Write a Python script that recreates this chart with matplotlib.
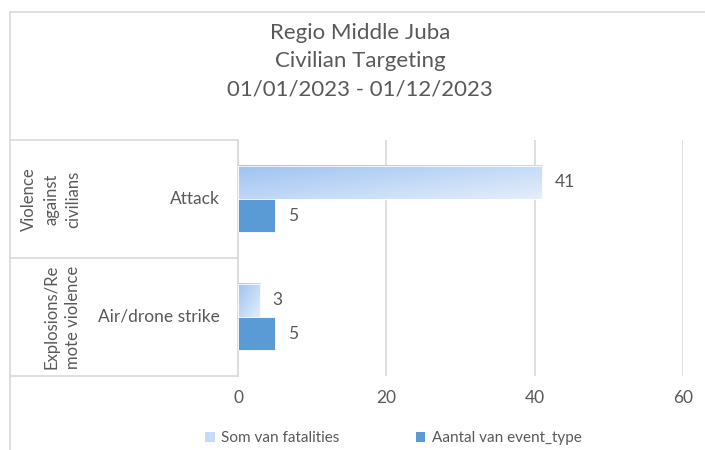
import numpy as np
import matplotlib
matplotlib.use("Agg")
import matplotlib.pyplot as plt
from matplotlib.lines import Line2D
from matplotlib.patches import Patch
from matplotlib.colors import LinearSegmentedColormap

plt.rcParams['font.family'] = ['Lato', 'DejaVu Sans']

# data
title_lines = ["Regio Middle Juba", "Civilian Targeting", "01/01/2023 - 01/12/2023"]
groups = ["Violence\nagainst\ncivilians", "Explosions/Re\nmote violence"]
categories = ["Attack", "Air/drone strike"]
fatalities = [41, 3]
event_counts = [5, 5]
series_names = ["Som van fatalities", "Aantal van event_type"]
xticks = [0, 20, 40, 60]

TXT = "#595959"
GRID = "#d9d9d9"
SOLID = "#5b9bd5"
grad = LinearSegmentedColormap.from_list("g", ["#9fc3f2", "#e4eefb"])

W, H = 705, 450
fig = plt.figure(figsize=(W / 100, H / 100), dpi=100)

def fx(px):
    return px / W

def fy(py):
    return 1 - py / H

ax = fig.add_axes([fx(238), fy(376), fx(683) - fx(238), fy(140) - fy(376)])

y = np.arange(len(categories))
bh = 0.28
ax.barh(y - bh / 2, fatalities, height=bh, color="none", edgecolor="white", lw=0.6, zorder=3)
ax.barh(y + bh / 2, event_counts, height=bh, color=SOLID, edgecolor="white", lw=0.6, zorder=3)

# gradient fill for the fatalities bars
gx, gy = np.meshgrid(np.linspace(0, 1, 60), np.linspace(0, 1, 30))
for yi, v in zip(y, fatalities):
    ax.imshow(0.55 * gx + 0.45 * gy, cmap=grad, aspect="auto", zorder=2,
              extent=[0, v, yi, yi - bh], interpolation="bilinear")

for yi, v in zip(y, fatalities):
    ax.annotate(str(v), (v, yi - bh / 2), xytext=(9, 0), textcoords="offset points",
                va="center", ha="left", color=TXT, fontsize=12.5)
for yi, v in zip(y, event_counts):
    ax.annotate(str(v), (v, yi + bh / 2), xytext=(9, 0), textcoords="offset points",
                va="center", ha="left", color=TXT, fontsize=12.5)

ax.set_xlim(0, 60)
ax.set_ylim(len(categories) - 0.5, -0.5)
ax.set_xticks(xticks)
ax.set_yticks([])
ax.tick_params(axis="x", length=0, pad=10, labelsize=12.5, labelcolor=TXT)
ax.grid(axis="x", color=GRID, lw=1.2, zorder=0)
ax.set_axisbelow(True)
for s in ["top", "right", "bottom"]:
    ax.spines[s].set_visible(False)
ax.spines["left"].set_color(GRID)
ax.spines["left"].set_linewidth(1.2)

# category / group labels
for i, (g, c) in enumerate(zip(groups, categories)):
    yc = 199 + i * 118
    fig.text(fx(220), fy(yc), c, ha="right", va="center", color=TXT, fontsize=12.5)
    fig.text(fx(81), fy(yc), g, ha="right", va="center", rotation=90,
             color=TXT, fontsize=12, linespacing=1.45, multialignment="center")

# table lines for the category area and chart border
for py in [140, 258, 376]:
    fig.add_artist(Line2D([fx(10), fx(238)], [fy(py), fy(py)], color=GRID, lw=1.2))
fig.add_artist(Line2D([fx(10), fx(705)], [fy(12), fy(12)], color=GRID, lw=1.2))
fig.add_artist(Line2D([fx(10), fx(10)], [fy(12), fy(450)], color=GRID, lw=1.2))

for line, py in zip(title_lines, [33, 61, 90]):
    fig.text(fx(360), fy(py), line, ha="center", va="center", color=TXT, fontsize=16)

handles = [Patch(facecolor="#c6dbf7", edgecolor="none"),
           Patch(facecolor=SOLID, edgecolor="none")]
fig.legend(handles, series_names, loc="center", bbox_to_anchor=(fx(393), fy(438)),
           ncol=2, frameon=False, fontsize=11, labelcolor=TXT, handlelength=0.65,
           handleheight=0.65, handletextpad=0.4, columnspacing=5.0)

fig.savefig("out.png", dpi=100)
